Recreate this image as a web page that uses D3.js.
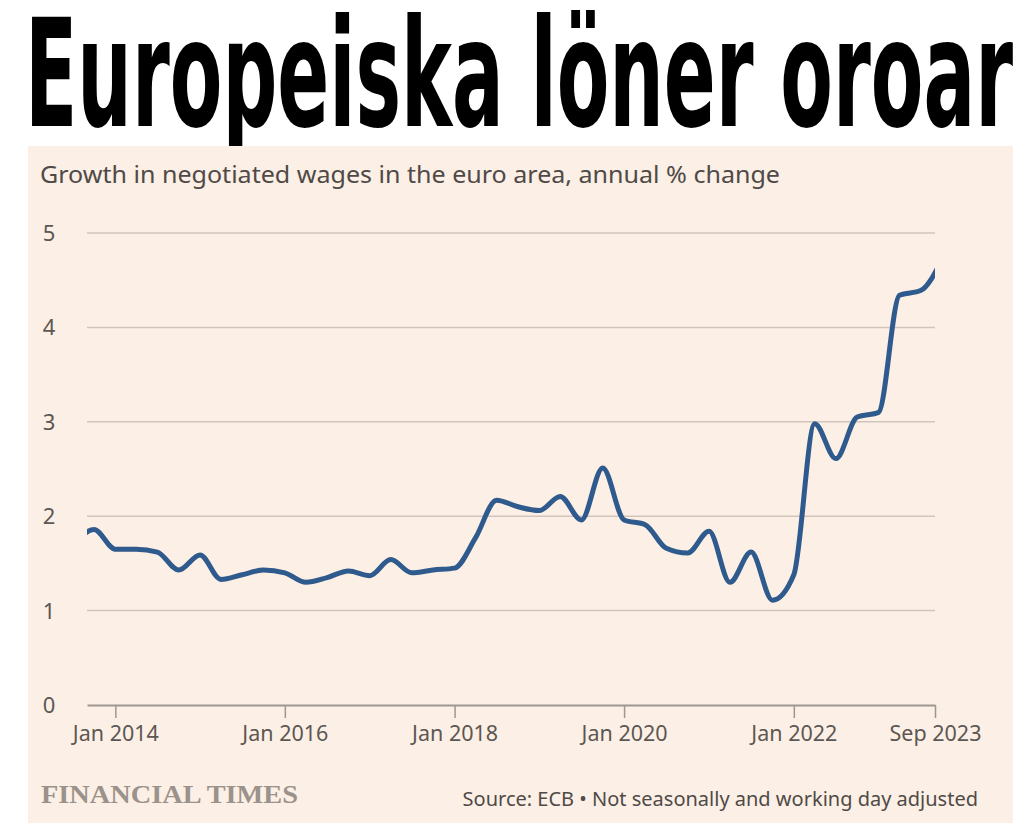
<!DOCTYPE html>
<html lang="en">
<head>
<meta charset="UTF-8"/>
<title>Europeiska löner oroar</title>
<script src="https://d3js.org/d3.v7.min.js"></script>
<style>
    body { margin: 0; background: #fff; }
    .grid line { stroke: #d1c6bc; stroke-width: 1.5; }
    .axis text, .ylab { font-family: "Noto Sans", sans-serif; fill: #5c5753; }
</style>
</head>
<body>
<script>
    const width = 1034, height = 826;

    // quarterly data, plotted at the end of each quarter
    const quarters = [
        "2013Q2", "2013Q3", "2013Q4",
        "2014Q1", "2014Q2", "2014Q3", "2014Q4",
        "2015Q1", "2015Q2", "2015Q3", "2015Q4",
        "2016Q1", "2016Q2", "2016Q3", "2016Q4",
        "2017Q1", "2017Q2", "2017Q3", "2017Q4",
        "2018Q1", "2018Q2", "2018Q3", "2018Q4",
        "2019Q1", "2019Q2", "2019Q3", "2019Q4",
        "2020Q1", "2020Q2", "2020Q3", "2020Q4",
        "2021Q1", "2021Q2", "2021Q3", "2021Q4",
        "2022Q1", "2022Q2", "2022Q3", "2022Q4",
        "2023Q1", "2023Q2", "2023Q3"
    ];
    const wages = [
        1.68, 1.86, 1.65,
        1.65, 1.62, 1.43, 1.59,
        1.33, 1.38, 1.43, 1.40,
        1.30, 1.35, 1.42, 1.37,
        1.54, 1.40, 1.43, 1.45,
        1.77, 2.17, 2.10, 2.06,
        2.21, 1.96, 2.51, 1.96,
        1.91, 1.66, 1.61, 1.84,
        1.30, 1.62, 1.11, 1.38,
        2.98, 2.61, 3.05, 3.10,
        4.34, 4.39, 4.72
    ];
    const yTicks = [0, 1, 2, 3, 4, 5];
    const xTicks = ["2014-01", "2016-01", "2018-01", "2020-01", "2022-01", "2023-09"];

    const title = "Europeiska löner oroar";
    const subtitle = "Growth in negotiated wages in the euro area, annual % change";
    const source = "Source: ECB \u2022 Not seasonally and working day adjusted";

    const quarterEnd = q => new Date(+q.slice(0, 4), +q.slice(5) * 3, 1);
    const data = quarters.map((q, i) => ({date: quarterEnd(q), value: wages[i]}));

    const plot = {left: 87, right: 935, top: 233, bottom: 705};

    const svg = d3.select("body").append("svg")
        .attr("width", width)
        .attr("height", height);

    // headline, squeezed horizontally to the width of the reference
    const head = svg.append("text")
        .style("font-family", "'Liberation Sans Narrow', 'DejaVu Sans Condensed', sans-serif")
        .style("font-weight", "bold")
        .style("font-size", "150px")
        .style("fill", "#000")
        .text(title);
    const headW = head.node().getComputedTextLength();
    head.attr("transform", "translate(25,126) scale(" + (988 / headW) + ",1)");

    // panel
    svg.append("rect")
        .attr("x", 28).attr("y", 146)
        .attr("width", 985).attr("height", 677)
        .attr("fill", "#fcefe5");

    svg.append("text")
        .attr("x", 40).attr("y", 183)
        .attr("textLength", 740)
        .attr("lengthAdjust", "spacingAndGlyphs")
        .style("font-family", "'Noto Sans', sans-serif")
        .style("font-size", "23px")
        .style("fill", "#4f4a47")
        .text(subtitle);

    const x = d3.scaleTime()
        .domain([new Date(2013, 8, 1), new Date(2023, 8, 1)])
        .range([plot.left, plot.right]);
    const y = d3.scaleLinear()
        .domain([0, 5])
        .range([plot.bottom, plot.top]);

    // gridlines
    svg.append("g").attr("class", "grid")
        .selectAll("line")
        .data(yTicks.filter(d => d > 0))
        .join("line")
        .attr("x1", plot.left).attr("x2", plot.right)
        .attr("y1", d => y(d)).attr("y2", d => y(d));

    svg.append("g")
        .selectAll("text")
        .data(yTicks)
        .join("text")
        .attr("class", "ylab")
        .attr("x", 49)
        .attr("y", d => y(d) + 8)
        .attr("text-anchor", "middle")
        .style("font-size", "22px")
        .text(d => d);

    // x axis
    const parse = d3.timeParse("%Y-%m");
    const xAxis = d3.axisBottom(x)
        .tickValues(xTicks.map(parse))
        .tickFormat(d3.timeFormat("%b %Y"))
        .tickSize(13)
        .tickSizeOuter(0)
        .tickPadding(8);

    const gx = svg.append("g")
        .attr("class", "axis")
        .attr("transform", "translate(0," + plot.bottom + ")")
        .call(xAxis);
    gx.select(".domain").attr("stroke", "#9e9791").attr("stroke-width", 2);
    gx.selectAll(".tick line").attr("stroke", "#9e9791").attr("stroke-width", 1.5);
    gx.selectAll(".tick text").style("font-size", "21.5px");

    // line
    svg.append("clipPath").attr("id", "clip")
        .append("rect")
        .attr("x", plot.left).attr("y", 150)
        .attr("width", plot.right - plot.left).attr("height", plot.bottom - 150);

    const line = d3.line()
        .x(d => x(d.date))
        .y(d => y(d.value))
        .curve(d3.curveMonotoneX);

    svg.append("path")
        .datum(data)
        .attr("clip-path", "url(#clip)")
        .attr("d", line)
        .attr("fill", "none")
        .attr("stroke", "#2f5a8d")
        .attr("stroke-width", 5)
        .attr("stroke-linejoin", "round");

    // footer
    svg.append("text")
        .attr("x", 41).attr("y", 803)
        .attr("textLength", 257)
        .attr("lengthAdjust", "spacingAndGlyphs")
        .style("font-family", "'Liberation Serif', 'DejaVu Serif', serif")
        .style("font-size", "25px")
        .style("font-weight", "bold")
        .style("fill", "#9a928b")
        .text("FINANCIAL TIMES");

    svg.append("text")
        .attr("x", 978).attr("y", 806)
        .attr("text-anchor", "end")
        .style("font-family", "'Noto Sans', sans-serif")
        .style("font-size", "20px")
        .style("fill", "#4f4a47")
        .text(source);
</script>
</body>
</html>
